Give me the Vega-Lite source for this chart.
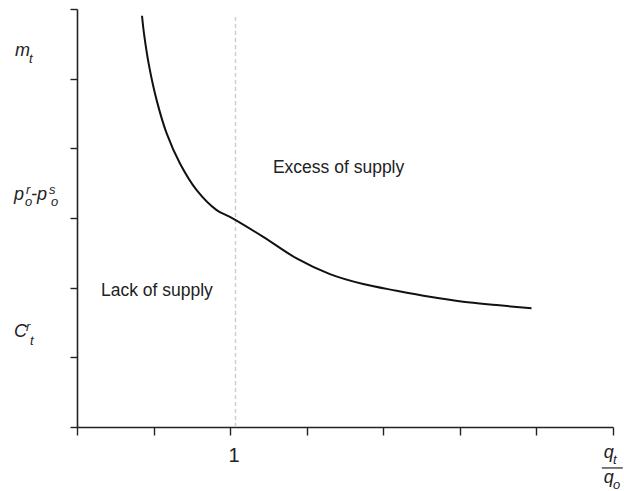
{
  "$schema": "https://vega.github.io/schema/vega-lite/v6.json",
  "width": 536,
  "height": 418,
  "autosize": {"type": "none"},
  "padding": {"left": 77, "top": 9, "right": 11, "bottom": 64},
  "background": "white",
  "config": {"view": {"stroke": null}},
  "datasets": {
    "curve": [
      {"x": 0.849, "y": 5.903}, {"x": 0.875, "y": 5.648}, {"x": 0.944, "y": 5.169},
      {"x": 1.04, "y": 4.692}, {"x": 1.171, "y": 4.214}, {"x": 1.345, "y": 3.783},
      {"x": 1.563, "y": 3.4}, {"x": 1.824, "y": 3.113}, {"x": 1.997, "y": 3.017},
      {"x": 2.432, "y": 2.73}, {"x": 2.868, "y": 2.42}, {"x": 3.303, "y": 2.195},
      {"x": 3.738, "y": 2.052}, {"x": 4.174, "y": 1.956}, {"x": 4.608, "y": 1.869},
      {"x": 5.043, "y": 1.798}, {"x": 5.479, "y": 1.75}, {"x": 5.936, "y": 1.703}
    ],
    "guide": [{"x": 2.07, "y": 0, "y2": 5.9}],
    "regions": [
      {"x": 0.313, "y": 1.88, "text": "Lack of supply"},
      {"x": 2.559, "y": 3.644, "text": "Excess of supply"}
    ],
    "main": [
      {"x": -0.809, "y": 5.323, "text": "m"},
      {"x": -0.822, "y": 3.257, "text": "p"},
      {"x": -0.601, "y": 3.257, "text": "-p"},
      {"x": -0.822, "y": 1.291, "text": "C"},
      {"x": 6.88, "y": -0.445, "text": "q"},
      {"x": 6.88, "y": -0.8, "text": "q"}
    ],
    "small": [
      {"x": -0.627, "y": 5.222, "text": "t"},
      {"x": -0.666, "y": 3.343, "text": "r"},
      {"x": -0.679, "y": 3.171, "text": "o"},
      {"x": -0.366, "y": 3.343, "text": "s"},
      {"x": -0.34, "y": 3.171, "text": "o"},
      {"x": -0.666, "y": 1.377, "text": "r"},
      {"x": -0.614, "y": 1.176, "text": "t"},
      {"x": 7.0, "y": -0.531, "text": "t"},
      {"x": 7.0, "y": -0.886, "text": "o"}
    ],
    "ticklabel": [{"x": 2.05, "y": -0.502, "text": "1"}],
    "fracline": [{"x": 6.854, "x2": 7.128, "y": -0.588}]
  },
  "encoding": {
    "x": {
      "field": "x", "type": "quantitative",
      "scale": {"domain": [0, 7], "nice": false, "zero": false},
      "axis": {
        "title": null, "labels": false, "grid": false,
        "values": [0, 1, 2, 3, 4, 5, 6, 7],
        "tickSize": 8, "tickWidth": 1.4, "tickColor": "#222",
        "domainColor": "#222", "domainWidth": 1.6
      }
    },
    "y": {
      "field": "y", "type": "quantitative",
      "scale": {"domain": [0, 6], "nice": false, "zero": false},
      "axis": {
        "title": null, "labels": false, "grid": false,
        "values": [0, 1, 2, 3, 4, 5, 6],
        "tickSize": 7, "tickWidth": 1.4, "tickColor": "#222",
        "domainColor": "#222", "domainWidth": 1.6
      }
    }
  },
  "layer": [
    {
      "data": {"name": "guide"},
      "mark": {"type": "rule", "stroke": "#cfcfcf", "strokeWidth": 1.5, "strokeDash": [4, 3]},
      "encoding": {"y2": {"field": "y2"}}
    },
    {
      "data": {"name": "curve"},
      "mark": {"type": "line", "interpolate": "catmull-rom", "stroke": "#111", "strokeWidth": 2}
    },
    {
      "data": {"name": "regions"},
      "mark": {"type": "text", "align": "left", "baseline": "alphabetic", "fontSize": 17.5, "font": "Liberation Sans", "fill": "#222"},
      "encoding": {"text": {"field": "text"}}
    },
    {
      "data": {"name": "main"},
      "mark": {"type": "text", "align": "left", "baseline": "alphabetic", "fontSize": 18, "fontStyle": "italic", "font": "Liberation Sans", "fill": "#222"},
      "encoding": {"text": {"field": "text"}}
    },
    {
      "data": {"name": "small"},
      "mark": {"type": "text", "align": "left", "baseline": "alphabetic", "fontSize": 13, "fontStyle": "italic", "font": "Liberation Sans", "fill": "#222"},
      "encoding": {"text": {"field": "text"}}
    },
    {
      "data": {"name": "ticklabel"},
      "mark": {"type": "text", "align": "center", "baseline": "alphabetic", "fontSize": 20, "font": "Liberation Sans", "fill": "#222"},
      "encoding": {"text": {"field": "text"}}
    },
    {
      "data": {"name": "fracline"},
      "mark": {"type": "rule", "stroke": "#222", "strokeWidth": 1.2},
      "encoding": {"x2": {"field": "x2"}}
    }
  ]
}
